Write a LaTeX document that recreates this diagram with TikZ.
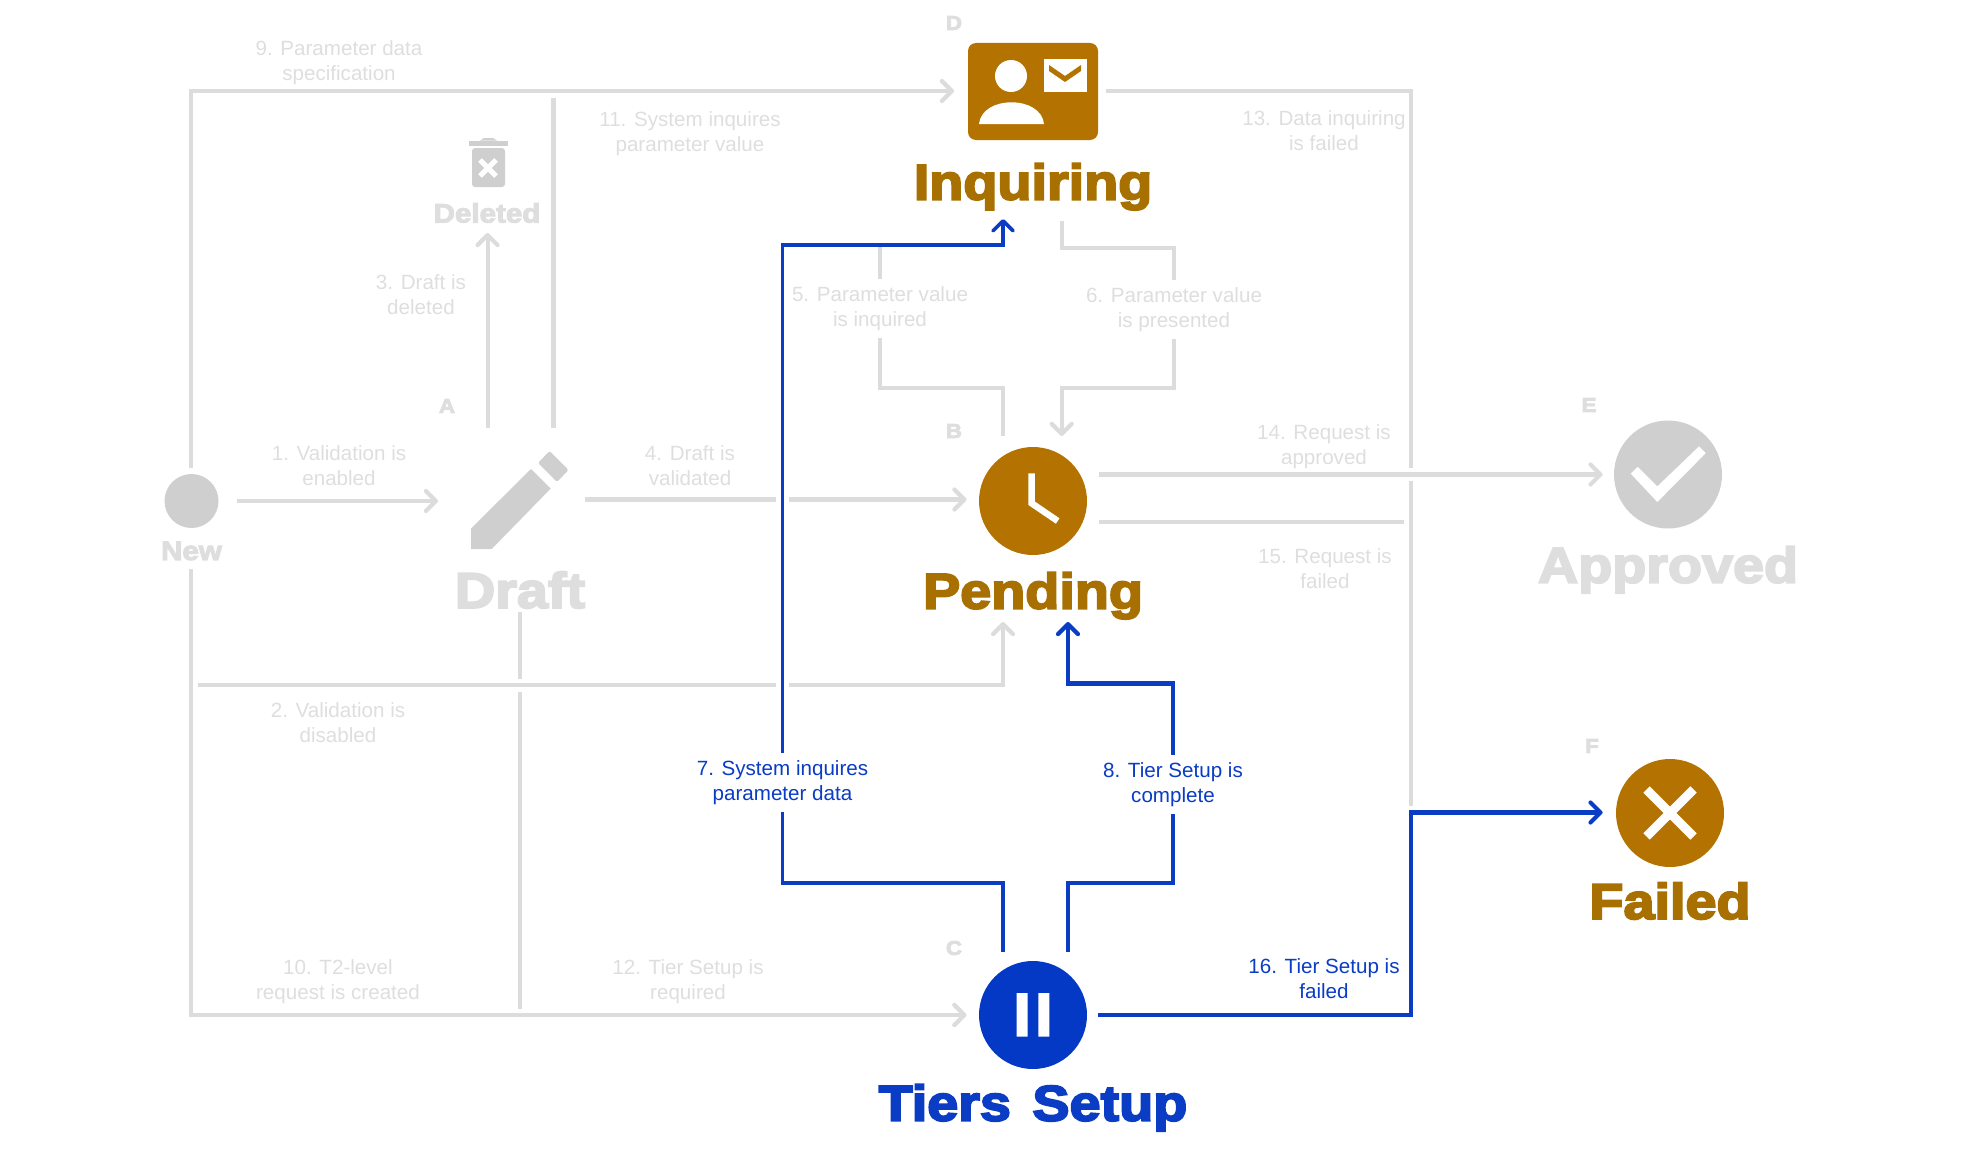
\documentclass[tikz,border=0pt]{standalone}
\usepackage{fontspec}
\setmainfont{Liberation Sans}
\newfontfamily\headfont[FakeBold=4,FakeStretch=1.115]{Liberation Sans Bold}
\usetikzlibrary{arrows.meta,positioning}
\definecolor{brownicon}{HTML}{B47300}
\definecolor{browntext}{HTML}{A87000}
\definecolor{blueicon}{HTML}{0339C4}
\definecolor{bluetext}{HTML}{0A3CC4}
\definecolor{grayicon}{HTML}{CFCFCF}
\definecolor{grayline}{HTML}{DCDCDC}
\definecolor{graytext}{HTML}{DEDEDE}
\tikzset{
  >={Straight Barb[length=10pt,width=20pt,round]},
  stateicon/.style={circle,minimum size=108pt,inner sep=0pt},
  bigtitle/.style={font=\headfont\fontsize{50}{50}\selectfont,inner sep=0pt},
  smalltitle/.style={font=\headfont\fontsize{26.5}{27}\selectfont,inner sep=0pt,text=graytext},
  letter/.style={font=\headfont\fontsize{20}{20}\selectfont,inner sep=0pt,text=graytext},
  lbl/.style={align=center,font=\fontsize{20.6}{25}\selectfont,inner sep=0pt,text=graytext},
  lblcut/.style={lbl,fill=white,inner xsep=0pt,inner ysep=7pt},
  graypath/.style={draw=grayline,line width=4.2pt},
  grayover/.style={graypath,preaction={draw=white,line width=13pt,-}},
  bluepath/.style={draw=bluetext,line width=4.2pt,
    preaction={draw=white,line width=13pt,-}},
}
\begin{document}
\begin{tikzpicture}[x=1pt,y=-1pt]
  \useasboundingbox (0,0) rectangle (1963,1172);

  \node[stateicon,minimum size=54pt,fill=grayicon] (new) at (191.5,501) {};
  \node[inner sep=0pt,minimum width=130pt,minimum height=110pt] (draft) at (519,501) {};
  \node[inner sep=0pt,minimum width=50pt,minimum height=50pt] (deleted) at (488,163) {};
  \node[rectangle,rounded corners=8pt,fill=brownicon,minimum width=130pt,minimum height=97pt,inner sep=0pt] (inquiring) at (1033,91.5) {};
  \node[stateicon,fill=brownicon] (pending) at (1033,501) {};
  \node[stateicon,fill=blueicon] (tiers) at (1033,1015) {};
  \node[stateicon,fill=grayicon] (approved) at (1668,474.5) {};
  \node[stateicon,fill=brownicon] (failed) at (1670,813) {};

  \fill[grayicon] (471,528.5) -- (531,469) -- (550.7,488.6) -- (491.7,549) -- (471,549) -- cycle;
  \fill[grayicon,rounded corners=2pt] (538,463) -- (549.5,451) -- (568.5,470) -- (557,482) -- cycle;
  \fill[grayicon] (469,140.5) rectangle (508,145.6);
  \fill[grayicon] (480,140.5) -- (484,138) -- (493,138) -- (497,140.5) -- cycle;
  \fill[grayicon,rounded corners=3pt] (472,148) -- (505,148) -- (505,187) -- (472,187) -- cycle;
  \draw[white,line width=5pt] (480,160) -- (496,176) (496,160) -- (480,176);

  \fill[white] (1011,76) circle (16);
  \fill[white] (979,124) .. controls (982,95) and (1041,95) .. (1044,124) -- cycle;
  \fill[white] (1044,59) rectangle (1087,92);
  \fill[brownicon] (1049,65) -- (1065,76) -- (1081,65) -- (1081,71) -- (1065,82) -- (1049,71) -- cycle;

  \draw[white,line width=6.5pt] (1031.7,473.3) -- (1031.7,503.3) -- (1057.7,521);
  \fill[white] (1016.7,993) rectangle (1027.7,1036.7) (1038.3,993) rectangle (1049.3,1036.7);
  \fill[white] (1630.7,473.6) -- (1637.7,466.8) -- (1657.3,486.4) -- (1699,446.4) -- (1705.7,453.2) -- (1657.3,502) -- cycle;
  \draw[white,line width=9pt] (1646.5,789.5) -- (1693.5,836.5) (1693.5,789.5) -- (1646.5,836.5);

  \node[bigtitle,text=browntext] (tinq) at (1033,186.7) {Inquiring};
  \node[bigtitle,text=graytext] (tdraft) at (520,590) {Draft};
  \node[bigtitle,text=browntext] (tpend) at (1033,595.7) {Pending};
  \node[bigtitle,text=graytext] (tappr) at (1668,569.7) {Approved};
  \node[bigtitle,text=browntext] (tfail) at (1670,901) {Failed};
  \node[bigtitle,text=bluetext] (ttier) at (1033,1107.7) {Tiers\hspace{6pt} Setup};
  \node[smalltitle] (tnew) at (191.5,551) {New};
  \node[smalltitle] (tdel) at (487,213) {Deleted};

  \node[letter] (la) at (447,406) {A};
  \node[letter] (lb) at (954,431) {B};
  \node[letter] (lc) at (954,948) {C};
  \node[letter] (ld) at (954,23) {D};
  \node[letter] (le) at (1589,405) {E};
  \node[letter] (lf) at (1592,746) {F};

  \coordinate (newup) at (191,468);
  \coordinate (newdown) at (191,569);
  \coordinate (newright) at (236.6,501);
  \coordinate (draftleft) at (438,501);
  \coordinate (draftup) at (487.6,428);
  \coordinate (draftup2) at (553.4,428);
  \coordinate (draftright) at (584.7,499.5);
  \coordinate (draftdown) at (519.6,612);
  \coordinate (delbottom) at (487.6,233);
  \coordinate (topjoin) at (553.4,91);
  \coordinate (inqleft) at (954,91);
  \coordinate (inqright) at (1105.5,91);
  \coordinate (inqin) at (1003,219);
  \coordinate (inqout) at (1061.7,221);
  \coordinate (pendin) at (966.5,499.5);
  \coordinate (pendup) at (1003,436);
  \coordinate (pendtop) at (1061.7,436);
  \coordinate (pendbot) at (1003,622);
  \coordinate (pendbot2) at (1068,622);
  \coordinate (pendr1) at (1099,474.5);
  \coordinate (pendr2) at (1099,522);
  \coordinate (apprin) at (1602.6,474.5);
  \coordinate (failin) at (1602.6,812.5);
  \coordinate (tierin) at (966.5,1015);
  \coordinate (tierup) at (1003,951.5);
  \coordinate (tierup2) at (1068,951.5);
  \coordinate (tierright) at (1098,1015);
  \coordinate (rightbus) at (1411,522);
  \coordinate (splitleft) at (198,685);

  \draw[graypath] (draftup2) -- (topjoin);
  \draw[grayover,->] (newup) |- (inqleft);
  \draw[graypath,->] (draftdown) |- (tierin);
  \draw[grayover,->] (newdown) |- (tierin);
  \draw[graypath,->] (newright) -- (draftleft);
  \draw[graypath,->] (draftup) -- (delbottom);
  \draw[graypath,->] (draftright) -- (pendin);
  \draw[grayover,->] (splitleft) -| (pendbot);
  \draw[graypath,->] (inqout) -- ++(0,27) -- ++(112.3,0) -- ++(0,140) -- ++(-112.3,0) -- (pendtop);
  \draw[graypath] (inqright) -| (rightbus |- failin);
  \draw[grayover,->] (pendr1) -- (apprin);
  \draw[graypath] (pendr2) -- ([xshift=-7pt]rightbus);

  \draw[bluepath,line width=3.6pt,->] (tierup) -- ++(0,-68.5) -- ++(-220.5,0) -- ++(0,-638) -- ++(220.5,0) -- (inqin);
  \draw[bluepath,->] (tierup2) -- ++(0,-68.5) -- ++(105,0) -- ++(0,-199.5) -- ++(-105,0) -- (pendbot2);
  \draw[bluepath,->] (tierright) -| (rightbus |- failin) -- (failin);
  \draw[graypath] (pendup) -- ++(0,-48) -- ++(-123,0) -- ++(0,-141);

  \node[lbl] (one) at (339,465.5) {1. Validation is\\enabled};
  \node[lbl] (two) at (338,722.5) {2. Validation is\\disabled};
  \node[lbl] (three) at (421,294.5) {3. Draft is\\deleted};
  \node[lbl] (four) at (690,465.5) {4. Draft is\\validated};
  \node[lblcut] (five) at (880,308.5) {5. Parameter value\\is inquired};
  \node[lblcut] (six) at (1174,309.5) {6. Parameter value\\is presented};
  \node[lblcut,text=bluetext] (seven) at (782.5,782.5) {7. System inquires\\parameter data};
  \node[lblcut,text=bluetext] (eight) at (1173,784.5) {8. Tier Setup is\\complete};
  \node[lbl] (nine) at (339,62.5) {9. Parameter data\\specification};
  \node[lbl] (ten) at (338,981.5) {10. T2-level\\request is created};
  \node[lbl] (eleven) at (690,133.5) {11. System inquires\\parameter value};
  \node[lbl] (twelve) at (688,981.5) {12. Tier Setup is\\required};
  \node[lbl] (thirteen) at (1324,130.5) {13. Data inquiring\\is failed};
  \node[lbl] (fourteen) at (1324,446.5) {14. Request is\\approved};
  \node[lbl] (fifteen) at (1325,568.5) {15. Request is\\failed};
  \node[lbl,text=bluetext] (sixteen) at (1324,978.5) {16. Tier Setup is\\failed};
\end{tikzpicture}
\end{document}
